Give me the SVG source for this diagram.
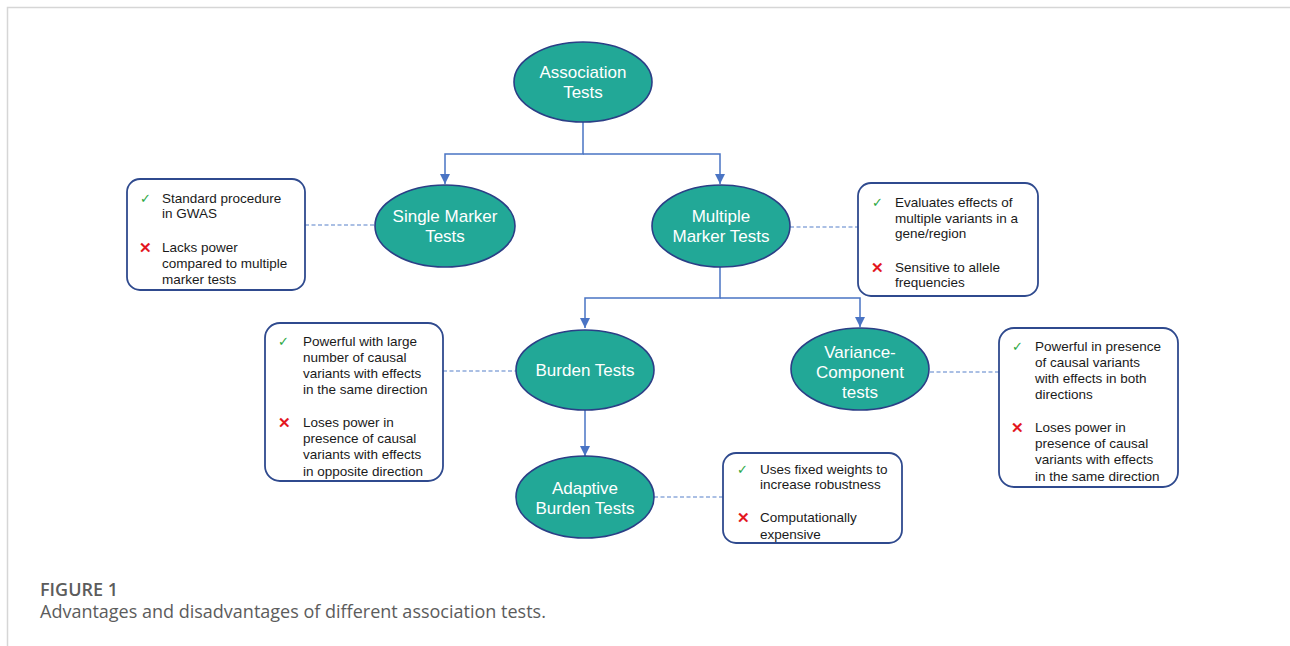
<svg xmlns="http://www.w3.org/2000/svg" width="1290" height="646" viewBox="0 0 1290 646">
<style>
.node ellipse{fill:#22a897;stroke:#2b3f86;stroke-width:1.6}
.node text{font-family:"Liberation Sans",Arial,sans-serif;font-size:17px;fill:#ffffff;text-anchor:middle;dominant-baseline:central}
.box rect{fill:#ffffff;stroke:#2f4a8e;stroke-width:1.8}
.box text{font-family:"Liberation Sans",Arial,sans-serif;font-size:13.5px;fill:#1a1a1a;dominant-baseline:central}
.box .ok{fill:#2aa844;font-size:13px}
.box .no{fill:#e3161e;font-size:15px;font-weight:bold}
.conn{fill:none;stroke:#4a74c4;stroke-width:1.5}
.dash{fill:none;stroke:#8eaadb;stroke-width:1.3;stroke-dasharray:4 2.5}
.cap{font-family:"Open Sans","Noto Sans",sans-serif;fill:#5c5c5c;font-size:18px}
</style>
<defs>
<marker id="arr" viewBox="0 0 10 10" refX="10" refY="5" markerWidth="10" markerHeight="10" markerUnits="userSpaceOnUse" orient="auto">
<path d="M0,0 L10,5 L0,10 z" fill="#4a74c4"/>
</marker>
</defs>
<rect width="1290" height="646" fill="#ffffff"/>
<path d="M7.5,646 V7.5 H1290" fill="none" stroke="#d6d6d6" stroke-width="1.5"/>

<g id="connectors">
<path class="conn" d="M583,122 V154 H445 V184" marker-end="url(#arr)"/>
<path class="conn" d="M583,154 H720 V184" marker-end="url(#arr)"/>
<path class="conn" d="M720,267 V298 H585 V328" marker-end="url(#arr)"/>
<path class="conn" d="M720,298 H860 V327" marker-end="url(#arr)"/>
<path class="conn" d="M585,410 V456" marker-end="url(#arr)"/>
<path class="dash" d="M305,225 H375"/>
<path class="dash" d="M790,227 H858"/>
<path class="dash" d="M443,371 H516"/>
<path class="dash" d="M930,372 H999"/>
<path class="dash" d="M654,497 H723"/>
</g>

<g id="node-association" class="node">
<ellipse cx="583" cy="82" rx="69" ry="40"/>
<text x="583" y="72">Association</text>
<text x="583" y="92">Tests</text>
</g>
<g id="node-single" class="node">
<ellipse cx="445" cy="226" rx="70" ry="41"/>
<text x="445" y="216">Single Marker</text>
<text x="445" y="236">Tests</text>
</g>
<g id="node-multiple" class="node">
<ellipse cx="721" cy="226" rx="69" ry="41"/>
<text x="721" y="216">Multiple</text>
<text x="721" y="236">Marker Tests</text>
</g>
<g id="node-burden" class="node">
<ellipse cx="585" cy="370" rx="69" ry="40"/>
<text x="585" y="370">Burden Tests</text>
</g>
<g id="node-variance" class="node">
<ellipse cx="860" cy="369" rx="69" ry="41"/>
<text x="860" y="352">Variance-</text>
<text x="860" y="372">Component</text>
<text x="860" y="392">tests</text>
</g>
<g id="node-adaptive" class="node">
<ellipse cx="585" cy="497" rx="69" ry="41"/>
<text x="585" y="488">Adaptive</text>
<text x="585" y="508">Burden Tests</text>
</g>

<g id="box-single" class="box">
<rect x="127" y="179" width="178" height="111" rx="13"/>
<text class="ok" x="140" y="198">✓</text>
<text x="162" y="198">Standard procedure</text>
<text x="162" y="213">in GWAS</text>
<text class="no" x="139" y="247">✕</text>
<text x="162" y="247">Lacks power</text>
<text x="162" y="263">compared to multiple</text>
<text x="162" y="279">marker tests</text>
</g>
<g id="box-multiple" class="box">
<rect x="858" y="183" width="180" height="113" rx="13"/>
<text class="ok" x="872" y="202">✓</text>
<text x="895" y="202">Evaluates effects of</text>
<text x="895" y="218">multiple variants in a</text>
<text x="895" y="233">gene/region</text>
<text class="no" x="871" y="267">✕</text>
<text x="895" y="267">Sensitive to allele</text>
<text x="895" y="282">frequencies</text>
</g>
<g id="box-burden" class="box">
<rect x="265" y="323" width="178" height="158" rx="15"/>
<text class="ok" x="278" y="341">✓</text>
<text x="303" y="341">Powerful with large</text>
<text x="303" y="357">number of causal</text>
<text x="303" y="373">variants with effects</text>
<text x="303" y="389">in the same direction</text>
<text class="no" x="278" y="422">✕</text>
<text x="303" y="422">Loses power in</text>
<text x="303" y="438">presence of causal</text>
<text x="303" y="454">variants with effects</text>
<text x="303" y="471">in opposite direction</text>
</g>
<g id="box-variance" class="box">
<rect x="999" y="328" width="179" height="159" rx="15"/>
<text class="ok" x="1012" y="346">✓</text>
<text x="1035" y="346">Powerful in presence</text>
<text x="1035" y="362">of causal variants</text>
<text x="1035" y="378">with effects in both</text>
<text x="1035" y="394">directions</text>
<text class="no" x="1011" y="427">✕</text>
<text x="1035" y="427">Loses power in</text>
<text x="1035" y="443">presence of causal</text>
<text x="1035" y="459">variants with effects</text>
<text x="1035" y="476">in the same direction</text>
</g>
<g id="box-adaptive" class="box">
<rect x="723" y="453" width="179" height="90" rx="13"/>
<text class="ok" x="737" y="469">✓</text>
<text x="760" y="469">Uses fixed weights to</text>
<text x="760" y="484">increase robustness</text>
<text class="no" x="737" y="517">✕</text>
<text x="760" y="517">Computationally</text>
<text x="760" y="534">expensive</text>
</g>

<text class="cap" x="40" y="596" font-weight="600" fill="#555555">FIGURE 1</text>
<text class="cap" x="40" y="618">Advantages and disadvantages of different association tests.</text>
</svg>
